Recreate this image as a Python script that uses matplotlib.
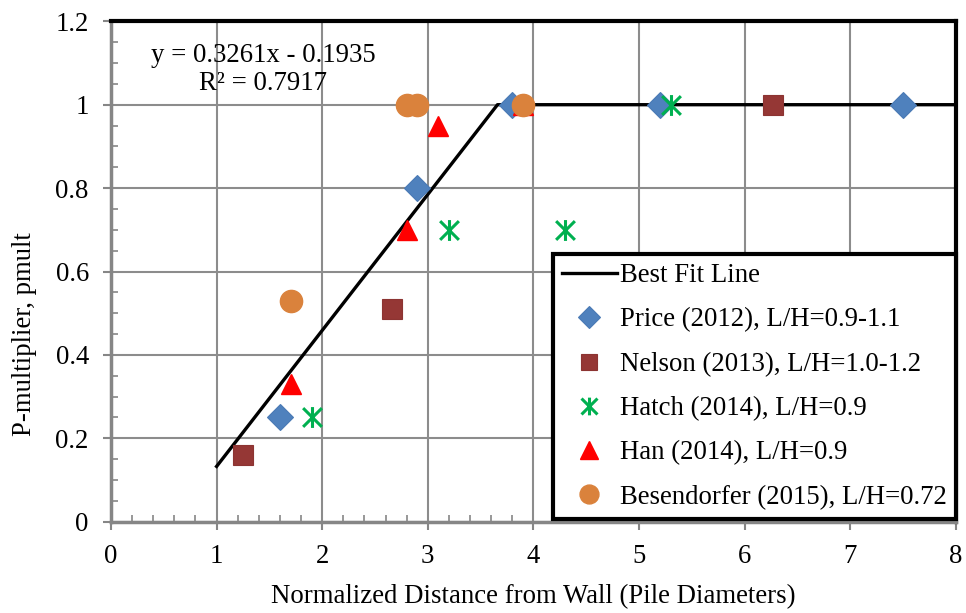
import matplotlib
matplotlib.use("Agg")
import matplotlib.pyplot as plt
import numpy as np
from matplotlib.path import Path

plt.rcParams['font.family'] = ['Liberation Serif', 'DejaVu Serif']

# Best fit line: y = 0.3261x - 0.1935, capped at 1.0
fit_slope = 0.3261
fit_intercept = -0.1935
fit_x_start = 1.0
fit_x_end = 8.0

price_x = [1.6, 2.9, 3.8, 5.2, 7.5]
price_y = [0.25, 0.80, 1.0, 1.0, 1.0]

nelson_x = [1.25, 2.66, 6.27]
nelson_y = [0.16, 0.51, 1.0]

hatch_x = [1.9, 3.2, 4.3, 5.3]
hatch_y = [0.25, 0.70, 0.70, 1.0]

han_x = [1.7, 2.8, 3.1, 3.9]
han_y = [0.33, 0.70, 0.95, 1.0]

besen_x = [1.7, 2.8, 2.9, 3.9]
besen_y = [0.53, 1.0, 1.0, 1.0]

labels = ["Best Fit Line",
          "Price (2012), L/H=0.9-1.1",
          "Nelson (2013), L/H=1.0-1.2",
          "Hatch (2014), L/H=0.9",
          "Han (2014), L/H=0.9",
          "Besendorfer (2015), L/H=0.72"]

FS = 19.3
fig = plt.figure(figsize=(9.66, 6.13), dpi=100)
ax = fig.add_axes([111/966, 1-521.7/613, 844.8/966, 500.4/613])

# best fit line
x_break = (1.0 - fit_intercept) / fit_slope
fx = [fit_x_start, x_break, fit_x_end]
fy = [fit_slope*fit_x_start + fit_intercept, 1.0, 1.0]
ax.plot(fx, fy, color='black', lw=2.4, label=labels[0], zorder=3)

ast = Path([(0, -1), (0, 1), (-0.9, -0.9), (0.9, 0.9), (-0.9, 0.9), (0.9, -0.9)],
           [Path.MOVETO, Path.LINETO, Path.MOVETO, Path.LINETO, Path.MOVETO, Path.LINETO])

ax.plot(price_x, price_y, ls='none', marker='D', ms=13, color='#4F81BD', mec='#4A7AB5', mew=0.8, label=labels[1], zorder=4)
ax.plot(nelson_x, nelson_y, ls='none', marker='s', ms=14, color='#953735', mec='#8C3432', mew=0.8, label=labels[2], zorder=4)
ax.plot(hatch_x, hatch_y, ls='none', marker=ast, ms=15, color='#00B050', mew=2.2, label=labels[3], zorder=4)
ax.plot(han_x, han_y, ls='none', marker='^', ms=15, color='#FF0000', mec='#FF0000', label=labels[4], zorder=4)
ax.plot(besen_x, besen_y, ls='none', marker='o', ms=16, color='#DA823C', mec='#DA823C', label=labels[5], zorder=5)

ax.set_xlim(0, 8)
ax.set_ylim(0, 1.2)
ax.set_xticks(np.arange(0, 9, 1))
ax.set_yticks(np.arange(0, 1.21, 0.2))
ax.set_xticklabels([str(i) for i in range(9)])
ax.set_yticklabels(['0', '0.2', '0.4', '0.6', '0.8', '1', '1.2'])
ax.set_xticks(np.arange(0, 8.01, 0.2), minor=True)
ax.set_yticks(np.arange(0, 1.201, 0.05), minor=True)
ax.tick_params(which='major', direction='out', length=6, width=1.5, color='#868686', labelsize=FS)
ax.tick_params(axis='x', which='major', pad=10)
ax.tick_params(axis='y', which='major', pad=10)
ax.tick_params(which='minor', direction='in', length=5, width=1.2, color='#868686')
ax.grid(True, which='major', color='#8C8C8C', lw=1.5, zorder=0)
ax.set_axisbelow(True)

for s in ['top', 'right']:
    ax.spines[s].set_color('black')
    ax.spines[s].set_linewidth(3)
for s in ['left', 'bottom']:
    ax.spines[s].set_color('#868686')
    ax.spines[s].set_linewidth(2.5)

ax.set_xlabel('Normalized Distance from Wall (Pile Diameters)', fontsize=FS, labelpad=11)
ax.set_ylabel('P-multiplier, pmult', fontsize=FS)
ax.yaxis.set_label_coords(-0.088, 0.375)

ax.text(1.44, 1.084, 'y = 0.3261x - 0.1935\nR² = 0.7917', ha='center', va='center',
        fontsize=FS, linespacing=1.16, zorder=6)

leg = ax.legend(loc='lower right', bbox_to_anchor=(1.0, 0.006), fontsize=FS, frameon=True,
                fancybox=False, edgecolor='black', framealpha=1, borderaxespad=0.0,
                handlelength=2.05, handletextpad=0.12, labelspacing=0.72,
                borderpad=0.33, numpoints=1, markerscale=0.85)
leg.get_frame().set_linewidth(3)
leg.set_zorder(10)

fig.savefig('out.png', dpi=100)
